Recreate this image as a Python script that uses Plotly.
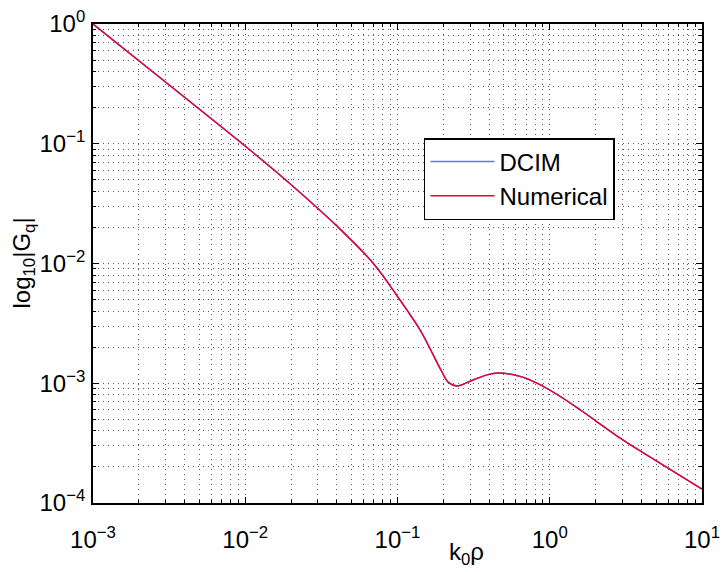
import plotly.graph_objects as go

# readings from the reference (k0*rho vs |Gq|)
k0rho = [0.001, 0.002884, 0.01074, 0.01995, 0.03981, 0.06902, 0.1038, 0.1406, 0.1959,
         0.2148, 0.2460, 0.3133, 0.3873, 0.4571, 0.6383, 0.8241, 1.132, 1.581, 2.985,
         5.012, 10.0]
dcim = [1.0, 0.3404, 0.08872, 0.04571, 0.02065, 0.01009, 0.004955, 0.002786, 0.001242,
        0.001023, 0.0009484, 0.001064, 0.001175, 0.001219, 0.001140, 0.001002, 0.000798,
        0.000601, 0.0003396, 0.0002249, 0.0001306]
numerical = [1.0, 0.3404, 0.08872, 0.04571, 0.02065, 0.01009, 0.004955, 0.002786, 0.001242,
             0.001023, 0.0009484, 0.001064, 0.001175, 0.001219, 0.001140, 0.001002, 0.000798,
             0.000601, 0.0003396, 0.0002249, 0.0001306]

x_tickvals = [1e-3, 1e-2, 1e-1, 1e0, 1e1]
x_ticktext = ["10<sup>\u22123</sup>", "10<sup>\u22122</sup>", "10<sup>\u22121</sup>",
              "10<sup>0</sup>", "10<sup>1</sup>"]
y_tickvals = [1e-4, 1e-3, 1e-2, 1e-1, 1e0]
y_ticktext = ["10<sup>\u22124</sup>", "10<sup>\u22123</sup>", "10<sup>\u22122</sup>",
              "10<sup>\u22121</sup>", "10<sup>0</sup>"]

FONT = "Liberation Sans, Arial, Helvetica, sans-serif"
GRID = "rgb(90,90,90)"
DASH = "1px,4px"

fig = go.Figure()
fig.add_trace(go.Scatter(x=k0rho, y=dcim, mode="lines", name="DCIM",
                         line=dict(color="rgb(110,110,255)", width=1.5, shape="spline")))
fig.add_trace(go.Scatter(x=k0rho, y=numerical, mode="lines", name="Numerical",
                         line=dict(color="rgb(235,0,40)", width=1.4, shape="spline")))

axis_common = dict(
    type="log", showline=True, linecolor="black", linewidth=1.8, mirror="allticks",
    ticks="inside", ticklen=6, tickcolor="black", tickwidth=1,
    showgrid=True, gridcolor=GRID, griddash=DASH, gridwidth=1,
    zeroline=False, tickfont=dict(family=FONT, size=24, color="black"),
    minor=dict(ticks="inside", ticklen=3, tickcolor="black", showgrid=True,
               gridcolor=GRID, griddash=DASH, gridwidth=1, dtick="D1"),
)

fig.update_xaxes(range=[-3, 1], tickmode="array", tickvals=x_tickvals,
                 ticktext=x_ticktext, ticklabelstandoff=14, **axis_common)
fig.update_yaxes(range=[-4, 0], tickmode="array", tickvals=y_tickvals,
                 ticktext=y_ticktext, ticklabelstandoff=1, **axis_common)

fig.update_layout(
    width=722, height=572,
    margin=dict(l=93, r=20, t=24, b=69, autoexpand=False),
    paper_bgcolor="white", plot_bgcolor="white",
    font=dict(family=FONT, color="black"),
    showlegend=True,
    legend=dict(x=0.5435, y=(503 - 138) / 479, xanchor="left", yanchor="top",
                bordercolor="black", borderwidth=1.5, bgcolor="white",
                font=dict(family=FONT, size=24, color="black"),
                itemwidth=64, tracegroupgap=0),
    annotations=[
        dict(text="log<sub>10</sub>|G<sub>q</sub>|", textangle=-90,
             x=(23 - 93) / 609, xref="paper", y=0.5, yref="paper", showarrow=False,
             font=dict(family=FONT, size=24, color="black"),
             xanchor="center", yanchor="middle"),
        dict(text="k<sub>0</sub>\u03c1", x=(466 - 93) / 609, xref="paper",
             y=-(553 - 503) / 479, yref="paper",
             showarrow=False, font=dict(family=FONT, size=24, color="black"),
             xanchor="center", yanchor="middle"),
    ],
)

fig.write_html("out.html")
